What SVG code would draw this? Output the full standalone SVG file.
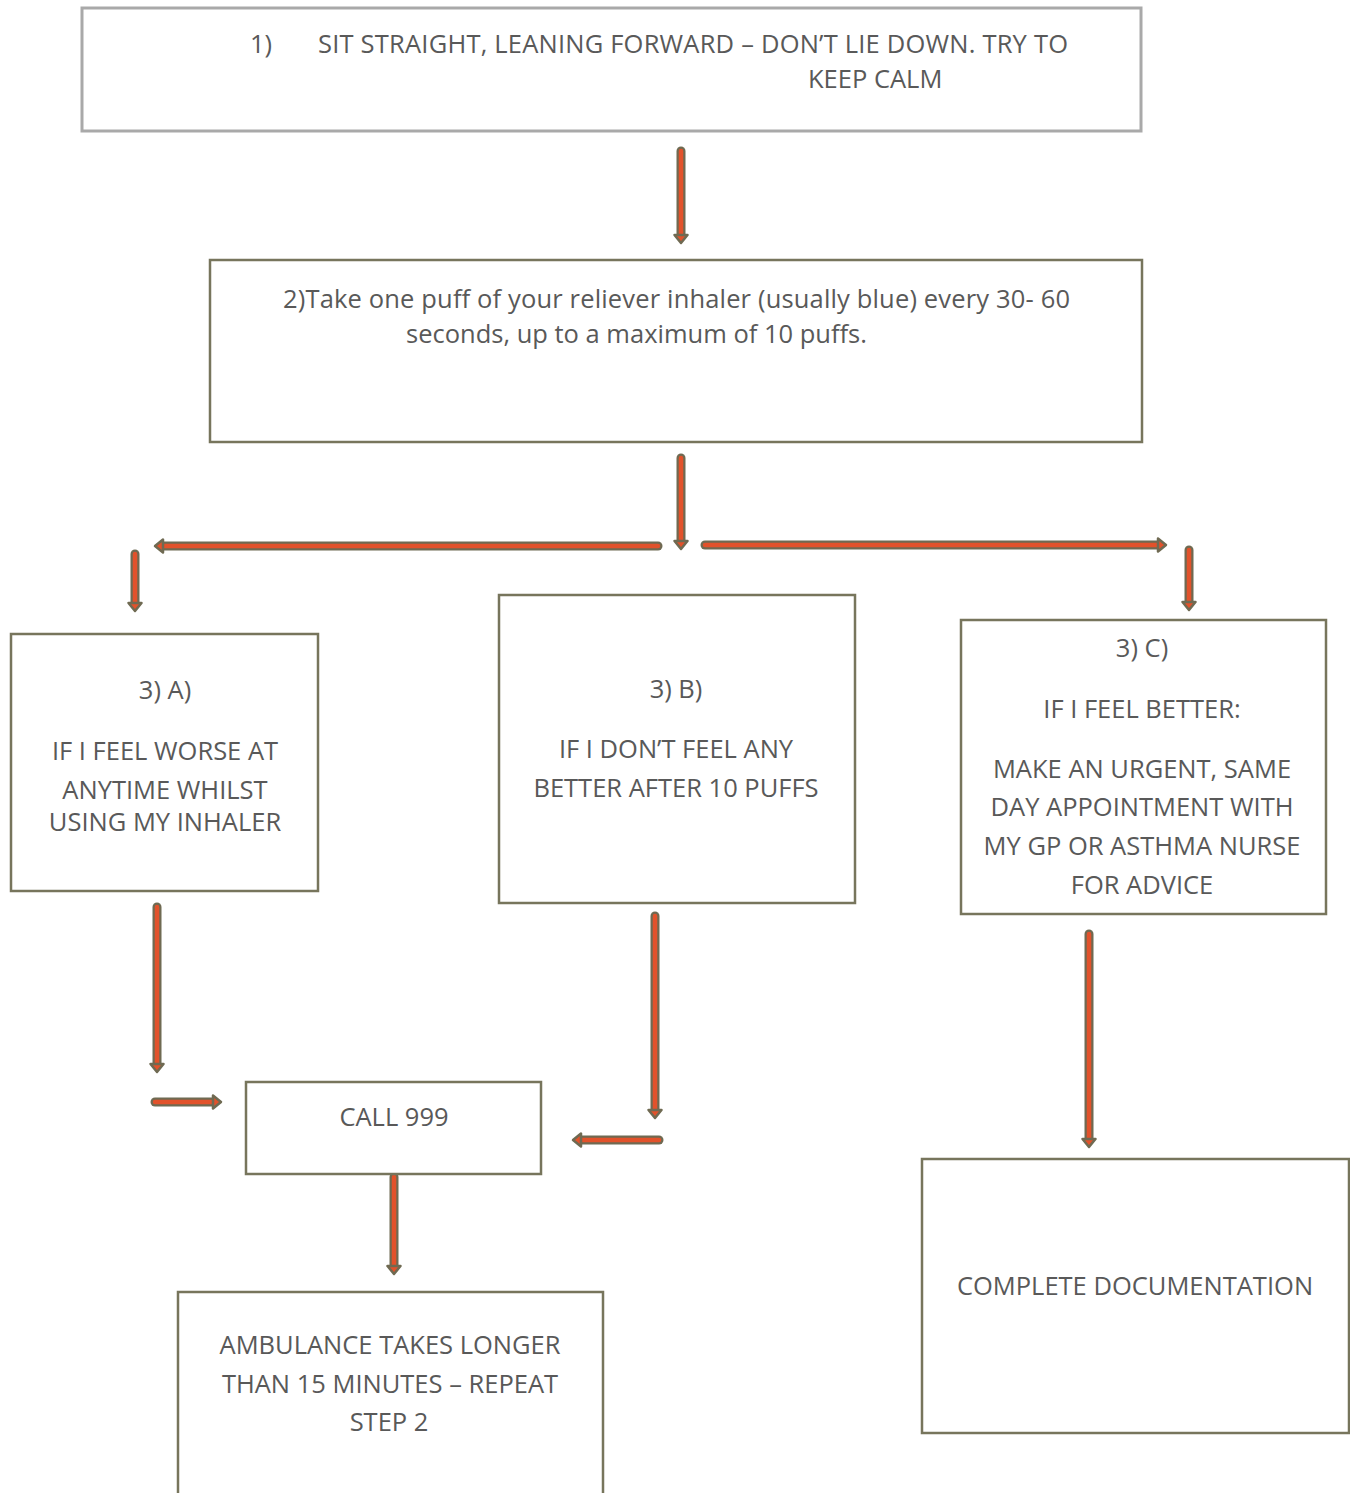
<svg xmlns="http://www.w3.org/2000/svg" width="1350" height="1493" viewBox="0 0 1350 1493">
  <style>
    .box { fill: #ffffff; stroke: #77755c; stroke-width: 2.5; }
    .box1 { fill: #ffffff; stroke: #a9a9a9; stroke-width: 3; }
    .t { font-family: "Open Sans", "Noto Sans", sans-serif; font-size: 25.5px; fill: #595959; text-anchor: middle; }
    .tl { font-family: "Open Sans", "Noto Sans", sans-serif; font-size: 25.5px; fill: #595959; }
    .shaft-o { stroke: #6f6a52; stroke-width: 9; stroke-linecap: round; fill: none; }
    .shaft-i { stroke: #e2522b; stroke-width: 4.5; stroke-linecap: round; fill: none; }
    .head { fill: #e2522b; stroke: #6f6a52; stroke-width: 2.5; stroke-linejoin: round; }
  </style>
  <defs>
    <!-- arrow pointing down, tip at origin -->
    <g id="hd"><polygon class="head" points="-6.5,-8 6.5,-8 0,0"/></g>
  </defs>

  <g id="connectors">
    <!-- step 1 to step 2 -->
    <path class="shaft-o" d="M681,151 V236"/><path class="shaft-i" d="M681,151 V236"/>
    <use href="#hd" transform="translate(681,243)"/>
    <!-- step 2 down -->
    <path class="shaft-o" d="M681,458 V542"/><path class="shaft-i" d="M681,458 V542"/>
    <use href="#hd" transform="translate(681,549)"/>
    <!-- branch left -->
    <path class="shaft-o" d="M658,546 H162"/><path class="shaft-i" d="M658,546 H162"/>
    <use href="#hd" transform="translate(155,546) rotate(90)"/>
    <!-- branch right -->
    <path class="shaft-o" d="M705,545 H1158"/><path class="shaft-i" d="M705,545 H1158"/>
    <use href="#hd" transform="translate(1166,545) rotate(-90)"/>
    <!-- down to 3A -->
    <path class="shaft-o" d="M135,554 V603"/><path class="shaft-i" d="M135,554 V603"/>
    <use href="#hd" transform="translate(135,611)"/>
    <!-- down to 3C -->
    <path class="shaft-o" d="M1189,550 V602"/><path class="shaft-i" d="M1189,550 V602"/>
    <use href="#hd" transform="translate(1189,610)"/>
    <!-- 3A down -->
    <path class="shaft-o" d="M157,907 V1065"/><path class="shaft-i" d="M157,907 V1065"/>
    <use href="#hd" transform="translate(157,1072)"/>
    <!-- into CALL 999 from left -->
    <path class="shaft-o" d="M155,1102 H213"/><path class="shaft-i" d="M155,1102 H213"/>
    <use href="#hd" transform="translate(221,1102) rotate(-90)"/>
    <!-- 3B down -->
    <path class="shaft-o" d="M655,916 V1110"/><path class="shaft-i" d="M655,916 V1110"/>
    <use href="#hd" transform="translate(655,1118)"/>
    <!-- into CALL 999 from right -->
    <path class="shaft-o" d="M659,1140 H580"/><path class="shaft-i" d="M659,1140 H580"/>
    <use href="#hd" transform="translate(573,1140) rotate(90)"/>
    <!-- CALL 999 down -->
    <path class="shaft-o" d="M394,1177 V1266"/><path class="shaft-i" d="M394,1177 V1266"/>
    <use href="#hd" transform="translate(394,1274)"/>
    <!-- 3C down -->
    <path class="shaft-o" d="M1089,934 V1139"/><path class="shaft-i" d="M1089,934 V1139"/>
    <use href="#hd" transform="translate(1089,1147)"/>
  </g>

  <g id="step1">
    <rect class="box1" x="82" y="8" width="1059" height="123"/>
    <text class="tl" x="250" y="53">1)</text>
    <text class="tl" x="318" y="53" textLength="750">SIT STRAIGHT, LEANING FORWARD – DON’T LIE DOWN. TRY TO</text>
    <text class="tl" x="808" y="88">KEEP CALM</text>
  </g>

  <g id="step2">
    <rect class="box" x="210" y="260" width="932" height="182"/>
    <text class="tl" x="283" y="308" textLength="787">2)Take one puff of your reliever inhaler (usually blue) every 30- 60</text>
    <text class="tl" x="406" y="343">seconds, up to a maximum of 10 puffs.</text>
  </g>

  <g id="step3a">
    <rect class="box" x="11" y="634" width="307" height="257"/>
    <text class="t" x="165" y="699">3) A)</text>
    <text class="t" x="165" y="760">IF I FEEL WORSE AT</text>
    <text class="t" x="165" y="799">ANYTIME WHILST</text>
    <text class="t" x="165" y="831">USING MY INHALER</text>
  </g>

  <g id="step3b">
    <rect class="box" x="499" y="595" width="356" height="308"/>
    <text class="t" x="676" y="698">3) B)</text>
    <text class="t" x="676" y="758">IF I DON’T FEEL ANY</text>
    <text class="t" x="676" y="797">BETTER AFTER 10 PUFFS</text>
  </g>

  <g id="step3c">
    <rect class="box" x="961" y="620" width="365" height="294"/>
    <text class="t" x="1142" y="657">3) C)</text>
    <text class="t" x="1142" y="718">IF I FEEL BETTER:</text>
    <text class="t" x="1142" y="778">MAKE AN URGENT, SAME</text>
    <text class="t" x="1142" y="816">DAY APPOINTMENT WITH</text>
    <text class="t" x="1142" y="855">MY GP OR ASTHMA NURSE</text>
    <text class="t" x="1142" y="894">FOR ADVICE</text>
  </g>

  <g id="call999">
    <rect class="box" x="246" y="1082" width="295" height="92"/>
    <text class="t" x="394" y="1126">CALL 999</text>
  </g>

  <g id="ambulance">
    <rect class="box" x="178" y="1292" width="425" height="210"/>
    <text class="t" x="390" y="1354">AMBULANCE TAKES LONGER</text>
    <text class="t" x="390" y="1393">THAN 15 MINUTES – REPEAT</text>
    <text class="t" x="389" y="1431">STEP 2</text>
  </g>

  <g id="documentation">
    <rect class="box" x="922" y="1159" width="427" height="274"/>
    <text class="t" x="1135" y="1295">COMPLETE DOCUMENTATION</text>
  </g>
</svg>
